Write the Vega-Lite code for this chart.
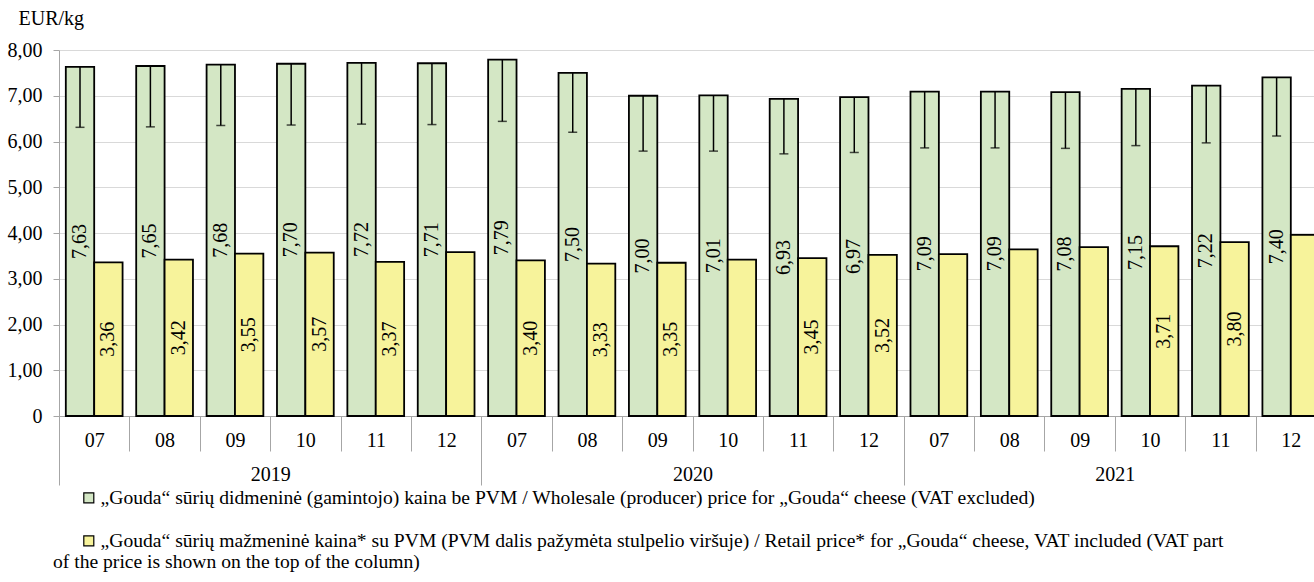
{
  "$schema": "https://vega.github.io/schema/vega-lite/v6.json",
  "width": 1255,
  "height": 366,
  "autosize": {"type": "none"},
  "padding": {"left": 59, "top": 50, "right": 0, "bottom": 166},
  "title": {
    "text": "of the price is shown on the top of the column)",
    "orient": "bottom",
    "anchor": "start",
    "frame": "group",
    "offset": 2,
    "dx": -6,
    "baseline": "top",
    "font": "Liberation Serif",
    "fontSize": 19.6,
    "fontWeight": "normal",
    "color": "#000000"
  },
  "config": {
    "font": "Liberation Serif",
    "view": {"stroke": null},
    "locale": {"number": {"decimal": ",", "thousands": " ", "grouping": [3], "currency": ["", " €"]}},
    "axis": {
      "labelFont": "Liberation Serif",
      "labelFontSize": 20,
      "labelColor": "#000000",
      "titleFont": "Liberation Serif",
      "titleColor": "#000000",
      "titleFontWeight": "normal",
      "domainColor": "#a6a6a6",
      "tickColor": "#a6a6a6",
      "gridColor": "#d9d9d9"
    }
  },
  "data": {
    "values": [
      {"period": "2019-07", "wholesale": 7.63, "vat_low": 6.31, "retail": 3.36, "show_retail_label": true},
      {"period": "2019-08", "wholesale": 7.65, "vat_low": 6.32, "retail": 3.42, "show_retail_label": true},
      {"period": "2019-09", "wholesale": 7.68, "vat_low": 6.35, "retail": 3.55, "show_retail_label": true},
      {"period": "2019-10", "wholesale": 7.70, "vat_low": 6.36, "retail": 3.57, "show_retail_label": true},
      {"period": "2019-11", "wholesale": 7.72, "vat_low": 6.38, "retail": 3.37, "show_retail_label": true},
      {"period": "2019-12", "wholesale": 7.71, "vat_low": 6.37, "retail": 3.58, "show_retail_label": false},
      {"period": "2020-07", "wholesale": 7.79, "vat_low": 6.44, "retail": 3.40, "show_retail_label": true},
      {"period": "2020-08", "wholesale": 7.50, "vat_low": 6.20, "retail": 3.33, "show_retail_label": true},
      {"period": "2020-09", "wholesale": 7.00, "vat_low": 5.79, "retail": 3.35, "show_retail_label": true},
      {"period": "2020-10", "wholesale": 7.01, "vat_low": 5.79, "retail": 3.42, "show_retail_label": false},
      {"period": "2020-11", "wholesale": 6.93, "vat_low": 5.73, "retail": 3.45, "show_retail_label": true},
      {"period": "2020-12", "wholesale": 6.97, "vat_low": 5.76, "retail": 3.52, "show_retail_label": true},
      {"period": "2021-07", "wholesale": 7.09, "vat_low": 5.86, "retail": 3.54, "show_retail_label": false},
      {"period": "2021-08", "wholesale": 7.09, "vat_low": 5.86, "retail": 3.64, "show_retail_label": false},
      {"period": "2021-09", "wholesale": 7.08, "vat_low": 5.85, "retail": 3.69, "show_retail_label": false},
      {"period": "2021-10", "wholesale": 7.15, "vat_low": 5.91, "retail": 3.71, "show_retail_label": true},
      {"period": "2021-11", "wholesale": 7.22, "vat_low": 5.97, "retail": 3.80, "show_retail_label": true},
      {"period": "2021-12", "wholesale": 7.40, "vat_low": 6.12, "retail": 3.96, "show_retail_label": false}
    ]
  },
  "layer": [
    {
      "transform": [{"fold": ["wholesale", "retail"], "as": ["series", "price"]}],
      "mark": {"type": "bar", "stroke": "#000000", "strokeWidth": 1.8},
      "encoding": {
        "x": {
          "field": "period", "type": "nominal", "sort": null,
          "scale": {"range": [0, 1267], "paddingInner": 0, "paddingOuter": 0},
          "axis": {
            "orient": "bottom",
            "title": null,
            "labelExpr": "datum.label ? slice(datum.label, 5) : ''",
            "labelAngle": 0,
            "tickBand": "extent",
            "tickSize": 35,
            "labelPadding": -11,
            "labelBaseline": "middle",
            "grid": false
          }
        },
        "xOffset": {
          "field": "series", "type": "nominal", "sort": null,
          "scale": {"domain": ["wholesale", "retail"], "paddingInner": 0, "paddingOuter": 0.24}
        },
        "y": {
          "field": "price", "type": "quantitative",
          "scale": {"domain": [0, 8]},
          "axis": {
            "title": "EUR/kg",
            "titleAngle": 0,
            "titleAlign": "left",
            "titleBaseline": "alphabetic",
            "titleX": -41,
            "titleY": -26,
            "titleFontSize": 20,
            "values": [0, 1, 2, 3, 4, 5, 6, 7, 8],
            "format": ".2f",
            "labelExpr": "datum.value == 0 ? '0' : datum.label",
            "tickSize": 6,
            "labelPadding": 11,
            "grid": true
          }
        },
        "color": {
          "field": "series", "type": "nominal",
          "scale": {"domain": ["wholesale", "retail"], "range": ["#d4e7c5", "#f7f39b"]},
          "legend": {
            "orient": "none",
            "legendX": 20,
            "legendY": 438,
            "direction": "vertical",
            "title": null,
            "symbolType": "square",
            "symbolSize": 100,
            "symbolStrokeColor": "#000000",
            "symbolStrokeWidth": 1.2,
            "labelFont": "Liberation Serif",
            "labelFontSize": 19.6,
            "labelColor": "#000000",
            "labelLimit": 2000,
            "labelOffset": 2,
            "rowPadding": 22,
            "padding": 0,
            "labelExpr": "datum.value == 'wholesale' ? '„Gouda“ sūrių didmeninė (gamintojo) kaina be PVM / Wholesale (producer) price for „Gouda“ cheese (VAT excluded)' : '„Gouda“ sūrių mažmeninė kaina* su PVM (PVM dalis pažymėta stulpelio viršuje) / Retail price* for „Gouda“ cheese, VAT included (VAT part'"
          }
        }
      }
    },
    {
      "mark": {"type": "rule", "color": "#000000", "strokeWidth": 1.5},
      "encoding": {
        "x": {
          "field": "period", "type": "nominal", "sort": null,
          "axis": {
            "orient": "bottom",
            "title": null,
            "domain": false,
            "labelExpr": "datum.label && slice(datum.label, 5) == '09' ? slice(datum.label, 0, 4) : ''",
            "labelAngle": 0,
            "labelOffset": 35.2,
            "tickBand": "extent",
            "tickSize": 69,
            "tickOpacity": {"condition": {"test": "!datum.value || slice(datum.label, 5) == '12'", "value": 1}, "value": 0},
            "labelPadding": -10.5,
            "labelBaseline": "middle",
            "labelOverlap": false,
            "grid": false
          }
        },
        "xOffset": {"datum": "wholesale", "type": "nominal"},
        "y": {"field": "wholesale", "type": "quantitative", "scale": {"domain": [0, 8]}, "axis": null},
        "y2": {"field": "vat_low"}
      }
    },
    {
      "mark": {"type": "tick", "color": "#000000", "thickness": 1.5, "size": 9, "orient": "horizontal"},
      "encoding": {
        "x": {"field": "period", "type": "nominal", "sort": null, "axis": null},
        "xOffset": {"datum": "wholesale", "type": "nominal"},
        "y": {"field": "vat_low", "type": "quantitative", "scale": {"domain": [0, 8]}, "axis": null}
      }
    },
    {
      "mark": {"type": "text", "angle": 270, "fontSize": 20, "font": "Liberation Serif", "color": "#000000", "align": "center", "baseline": "middle"},
      "encoding": {
        "x": {"field": "period", "type": "nominal", "sort": null, "axis": null},
        "xOffset": {"datum": "wholesale", "type": "nominal"},
        "y": {"field": "wholesale", "type": "quantitative", "scale": {"domain": [0, 16]}, "axis": null},
        "text": {"field": "wholesale", "type": "quantitative", "format": ".2f"}
      }
    },
    {
      "transform": [{"filter": "datum.show_retail_label"}],
      "mark": {"type": "text", "angle": 270, "fontSize": 20, "font": "Liberation Serif", "color": "#000000", "align": "center", "baseline": "middle"},
      "encoding": {
        "x": {"field": "period", "type": "nominal", "sort": null, "axis": null},
        "xOffset": {"datum": "retail", "type": "nominal"},
        "y": {"field": "retail", "type": "quantitative", "scale": {"domain": [0, 16]}, "axis": null},
        "text": {"field": "retail", "type": "quantitative", "format": ".2f"}
      }
    }
  ],
  "resolve": {"scale": {"y": "independent"}, "axis": {"x": "independent"}}
}
